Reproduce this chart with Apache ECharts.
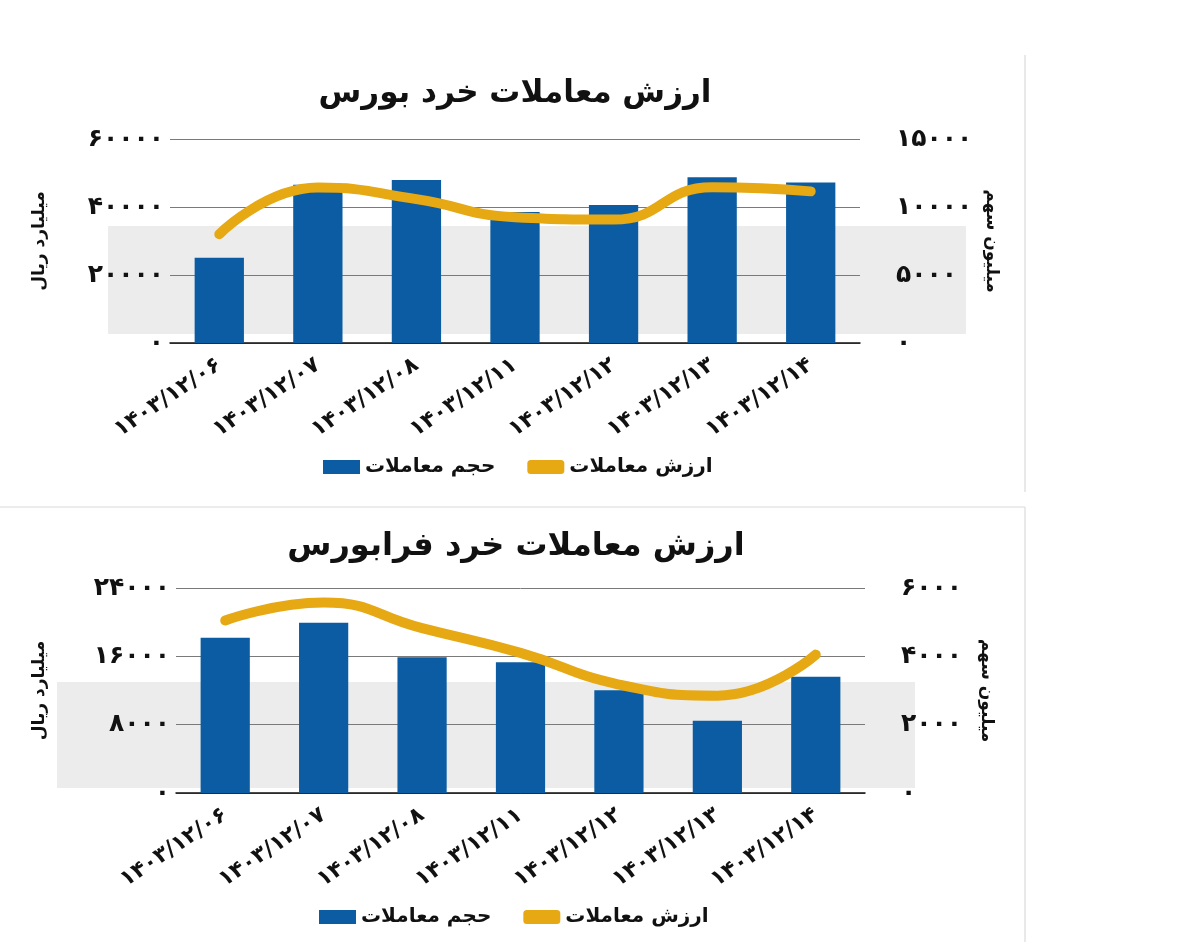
<!DOCTYPE html>
<html>
<head>
<meta charset="utf-8">
<script src="https://cdn.jsdelivr.net/npm/echarts@6/dist/echarts.min.js"></script>
<style>
html,body{margin:0;padding:0;background:#fff;}
#chart{width:1200px;height:942px;}
</style>
</head>
<body>
<div id="chart"></div>
<script>
// ---- data ----
const categories = ['۱۴۰۳/۱۲/۰۶','۱۴۰۳/۱۲/۰۷','۱۴۰۳/۱۲/۰۸','۱۴۰۳/۱۲/۱۱','۱۴۰۳/۱۲/۱۲','۱۴۰۳/۱۲/۱۳','۱۴۰۳/۱۲/۱۴'];
const titleBourse = 'ارزش معاملات خرد بورس';
const titleFarabourse = 'ارزش معاملات خرد فرابورس';
const volumeName = 'حجم معاملات';
const valueName = 'ارزش معاملات';
const leftAxisName = 'میلیارد ریال';
const rightAxisName = 'میلیون سهم';

// bourse (top)
const bourseVolume = [6270, 11640, 11990, 9630, 10150, 12180, 11810];   // million shares (right axis)
const bourseValue  = [32000, 45700, 42300, 37000, 36300, 45800, 44600]; // billion rial (left axis)
const bourseLeftTicks  = [0, 20000, 40000, 60000];
const bourseRightTicks = [0, 5000, 10000, 15000];

// farabourse (bottom)
const faraVolume = [4545, 4985, 3970, 3825, 3005, 2115, 3400];
const faraValue  = [20200, 22300, 19300, 16400, 12700, 11400, 16200];
const faraLeftTicks  = [0, 8000, 16000, 24000];
const faraRightTicks = [0, 2000, 4000, 6000];

// ---- helpers ----
const FA = '۰۱۲۳۴۵۶۷۸۹';
const toFa = v => String(v).replace(/\d/g, d => FA[d]);
const FONT = 'DejaVu Sans';
const BLUE = '#0b5ca2';
const GOLD = '#e6a813';

function yAxis(ticks, pos, name, gap, showSplit) {
  return {
    type: 'value', position: pos,
    min: ticks[0], max: ticks[ticks.length - 1], interval: ticks[1] - ticks[0],
    name: name, nameLocation: 'middle', nameGap: gap,
    nameRotate: pos === 'left' ? 90 : -90,
    nameTextStyle: { fontFamily: FONT, fontWeight: 'bold', fontSize: 17, color: '#111' },
    axisLine: { show: false }, axisTick: { show: false },
    axisLabel: { formatter: v => toFa(v), fontFamily: FONT, fontWeight: 'bold', fontSize: 25, color: '#111',
                 margin: pos === 'left' ? 6 : 36, align: pos === 'left' ? 'right' : 'left' },
    splitLine: { show: showSplit, lineStyle: { color: '#7a7a7a', width: 1 } }
  };
}

function xAxis(gridIndex) {
  return {
    type: 'category', gridIndex: gridIndex, data: categories,
    axisLine: { lineStyle: { color: '#111', width: 1.5 } },
    axisTick: { show: false },
    axisLabel: { rotate: 34, interval: 0, margin: 20, fontFamily: FONT, fontWeight: 'bold', fontSize: 22, color: '#111' }
  };
}

const option = {
  animation: false,
  backgroundColor: '#fff',
  graphic: [
    { type: 'rect', z: -10, shape: { x: 108, y: 226, width: 858, height: 108 }, style: { fill: '#ececec' } },
    { type: 'rect', z: -10, shape: { x: 57, y: 682, width: 858, height: 106 }, style: { fill: '#ececec' } },
    { type: 'line', z: -10, shape: { x1: 1025, y1: 55, x2: 1025, y2: 492 }, style: { stroke: '#e2e2e2', lineWidth: 1.5 } },
    { type: 'line', z: -10, shape: { x1: 0, y1: 507, x2: 1025, y2: 507 }, style: { stroke: '#e6e6e6', lineWidth: 1.5 } },
    { type: 'line', z: -10, shape: { x1: 1025, y1: 507, x2: 1025, y2: 942 }, style: { stroke: '#e2e2e2', lineWidth: 1.5 } }
  ],
  title: [
    { text: titleBourse, left: 510, top: 73, textAlign: 'center',
      textStyle: { fontFamily: FONT, fontWeight: 'bold', fontSize: 31, color: '#111' } },
    { text: titleFarabourse, left: 511, top: 526, textAlign: 'center',
      textStyle: { fontFamily: FONT, fontWeight: 'bold', fontSize: 32, color: '#111' } }
  ],
  legend: [
    { left: 318, top: 452, itemGap: 32, itemWidth: 37, itemHeight: 14,
      textStyle: { fontFamily: FONT, fontWeight: 'bold', fontSize: 20, color: '#111' },
      data: [ { name: volumeName, icon: 'rect' }, { name: valueName, icon: 'roundRect' } ] },
    { left: 314, top: 902, itemGap: 32, itemWidth: 37, itemHeight: 14,
      textStyle: { fontFamily: FONT, fontWeight: 'bold', fontSize: 20, color: '#111' },
      data: [ { name: volumeName + ' ', icon: 'rect' }, { name: valueName + ' ', icon: 'roundRect' } ],
      formatter: n => n.trim() }
  ],
  grid: [
    { left: 170, right: 340, top: 139, height: 204 },
    { left: 176, right: 335, top: 588, height: 205 }
  ],
  xAxis: [ xAxis(0), xAxis(1) ],
  yAxis: [
    Object.assign(yAxis(bourseLeftTicks, 'left', leftAxisName, 122, true), { gridIndex: 0 }),
    Object.assign(yAxis(bourseRightTicks, 'right', rightAxisName, 118, false), { gridIndex: 0 }),
    Object.assign(yAxis(faraLeftTicks, 'left', leftAxisName, 128, true), { gridIndex: 1 }),
    Object.assign(yAxis(faraRightTicks, 'right', rightAxisName, 113, false), { gridIndex: 1 })
  ],
  series: [
    { name: volumeName, type: 'bar', xAxisIndex: 0, yAxisIndex: 1, data: bourseVolume,
      barWidth: '50%', itemStyle: { color: BLUE } },
    { name: valueName, type: 'line', xAxisIndex: 0, yAxisIndex: 0, data: bourseValue,
      smooth: true, symbol: 'none', z: 5,
      lineStyle: { color: GOLD, width: 10, cap: 'round', join: 'round' }, itemStyle: { color: GOLD } },
    { name: volumeName + ' ', type: 'bar', xAxisIndex: 1, yAxisIndex: 3, data: faraVolume,
      barWidth: '50%', itemStyle: { color: BLUE } },
    { name: valueName + ' ', type: 'line', xAxisIndex: 1, yAxisIndex: 2, data: faraValue,
      smooth: true, symbol: 'none', z: 5,
      lineStyle: { color: GOLD, width: 10, cap: 'round', join: 'round' }, itemStyle: { color: GOLD } }
  ]
};

const chart = echarts.init(document.getElementById('chart'), null, { renderer: 'canvas' });
chart.setOption(option);
</script>
</body>
</html>
